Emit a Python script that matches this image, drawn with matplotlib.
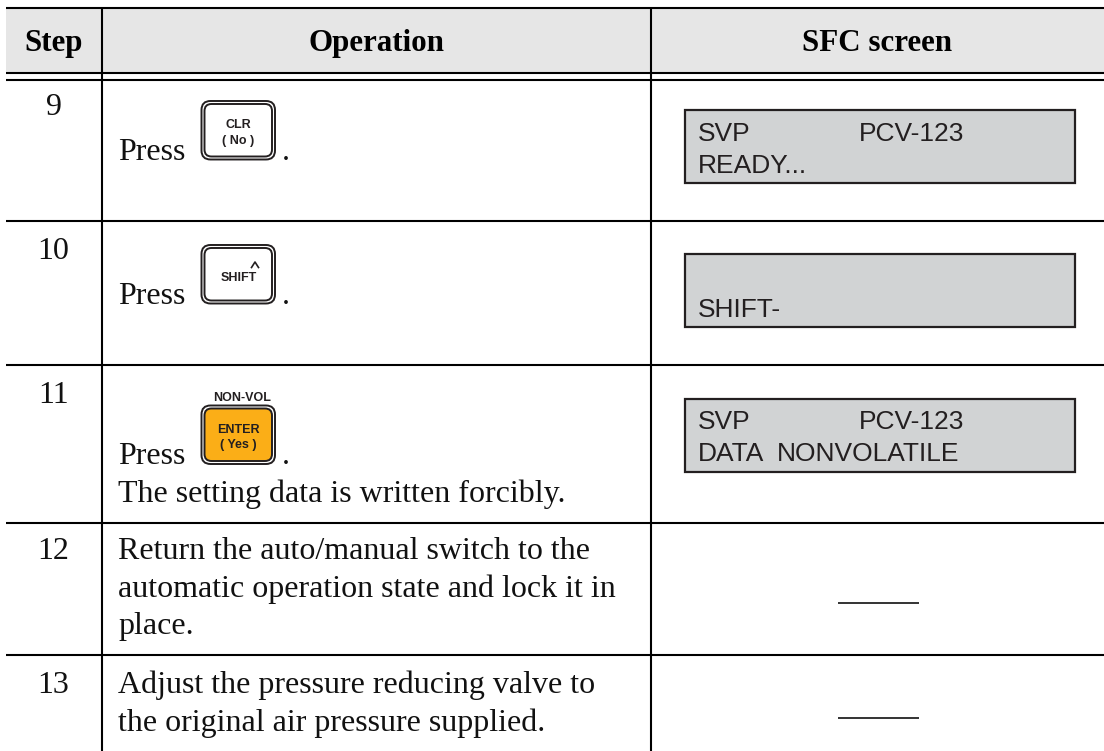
import matplotlib
matplotlib.use("Agg")
import matplotlib.pyplot as plt
from matplotlib.patches import FancyBboxPatch, Rectangle

W, H = 1104, 751
SERIF = "Liberation Serif"
SANS = "Liberation Sans"
DARK = "#231f20"

headers = ["Step", "Operation", "SFC screen"]
header_x = [53.5, 376, 877]
steps = ["9", "10", "11", "12", "13"]
step_baselines = [115, 259, 403, 559, 693]

operation_lines = [
    ("Press", 160), ("Press", 304), ("Press", 464),
    ("The setting data is written forcibly.", 502),
    ("Return the auto/manual switch to the", 559),
    ("automatic operation state and lock it in", 597),
    ("place.", 634),
    ("Adjust the pressure reducing valve to", 693),
    ("the original air pressure supplied.", 731),
]
period_baselines = [160, 304, 464]

h_lines = [8, 73.5, 80.5, 221.5, 365.5, 522.7, 655.5]
v_lines = [101.5, 651]

buttons = [
    {"top": 101, "fill": "white", "labels": [("CLR", 128), ("( No )", 144)]},
    {"top": 245, "fill": "white", "labels": [("SHIFT", 281)]},
    {"top": 405.5, "fill": "#fbae17", "labels": [("ENTER", 433), ("( Yes )", 448)]},
]

screens = [
    {"top": 110.5, "lines": [("SVP", 698, 140.7), ("PCV-123", 859, 140.7), ("READY...", 698, 172.7)]},
    {"top": 254.5, "lines": [("SHIFT-", 698, 317)]},
    {"top": 399, "lines": [("SVP", 698, 429.3), ("PCV-123", 859, 429.3),
                           ("DATA", 698, 460.7), ("NONVOLATILE", 777, 460.7)]},
]
dash_rows = [603.5, 718]

fig = plt.figure(figsize=((W + 0.01) / 100, (H + 0.01) / 100), dpi=100)
ax = fig.add_axes([0, 0, 1, 1])
ax.set_xlim(0, W)
ax.set_ylim(H, 0)
ax.set_axis_off()

ax.add_patch(Rectangle((6, 8), W - 6, 65.5, fc="#e6e6e6", ec="none", zorder=0))
LW = 1.5
for y in h_lines:
    ax.plot([6, W], [y, y], color="black", lw=LW, solid_capstyle="butt", zorder=2)
for x in v_lines:
    ax.plot([x, x], [8, H], color="black", lw=LW, solid_capstyle="butt", zorder=2)

for x, t in zip(header_x, headers):
    ax.text(x, 50.7, t, family=SERIF, weight="bold", fontsize=22.3, ha="center", va="baseline", color="black")
for t, y in zip(steps, step_baselines):
    ax.text(53.5, y, t, family=SERIF, fontsize=23, ha="center", va="baseline", color="#111111")
for t, y in operation_lines:
    ax.text(118, y, t, family=SERIF, fontsize=23, ha="left", va="baseline", color="#111111")
for y in period_baselines:
    ax.text(282, y, ".", family=SERIF, fontsize=23, ha="left", va="baseline", color="#111111")


def rounded(x0, y0, w, h, r, fc, ec, lw, z=3):
    ax.add_patch(FancyBboxPatch((x0, y0), w, h, boxstyle=f"round,pad=0,rounding_size={r}",
                                fc=fc, ec=ec, lw=lw, zorder=z))


for b in buttons:
    top = b["top"]
    rounded(201.5, top, 73.5, 58.5, 9, "white", DARK, 1.4)
    rounded(204.5, top + 3, 67.5, 52.5, 7, b["fill"], DARK, 1.4, 4)
    for t, y in b["labels"]:
        ax.text(238.3, y, t, family=SANS, weight="bold", fontsize=9, ha="center", va="baseline", color=DARK, zorder=5)

ax.text(241.7, 401, "NON-VOL", family=SANS, weight="bold", fontsize=9, ha="center", va="baseline", color=DARK, zorder=5)
ax.plot([251.5, 255, 258.5], [267.5, 262, 267.5], color=DARK, lw=1.2, zorder=5)

for s in screens:
    ax.add_patch(Rectangle((685, s["top"]), 390, 73, fc="#d1d3d4", ec=DARK, lw=1.6, zorder=3))
    for t, x, y in s["lines"]:
        ax.text(x, y, t, family=SANS, fontsize=19, ha="left", va="baseline", color=DARK, zorder=5)

for y in dash_rows:
    ax.plot([838, 919], [y, y], color="#333333", lw=1.4, solid_capstyle="butt", zorder=3)

fig.savefig("out.png", dpi=100, facecolor="white")
